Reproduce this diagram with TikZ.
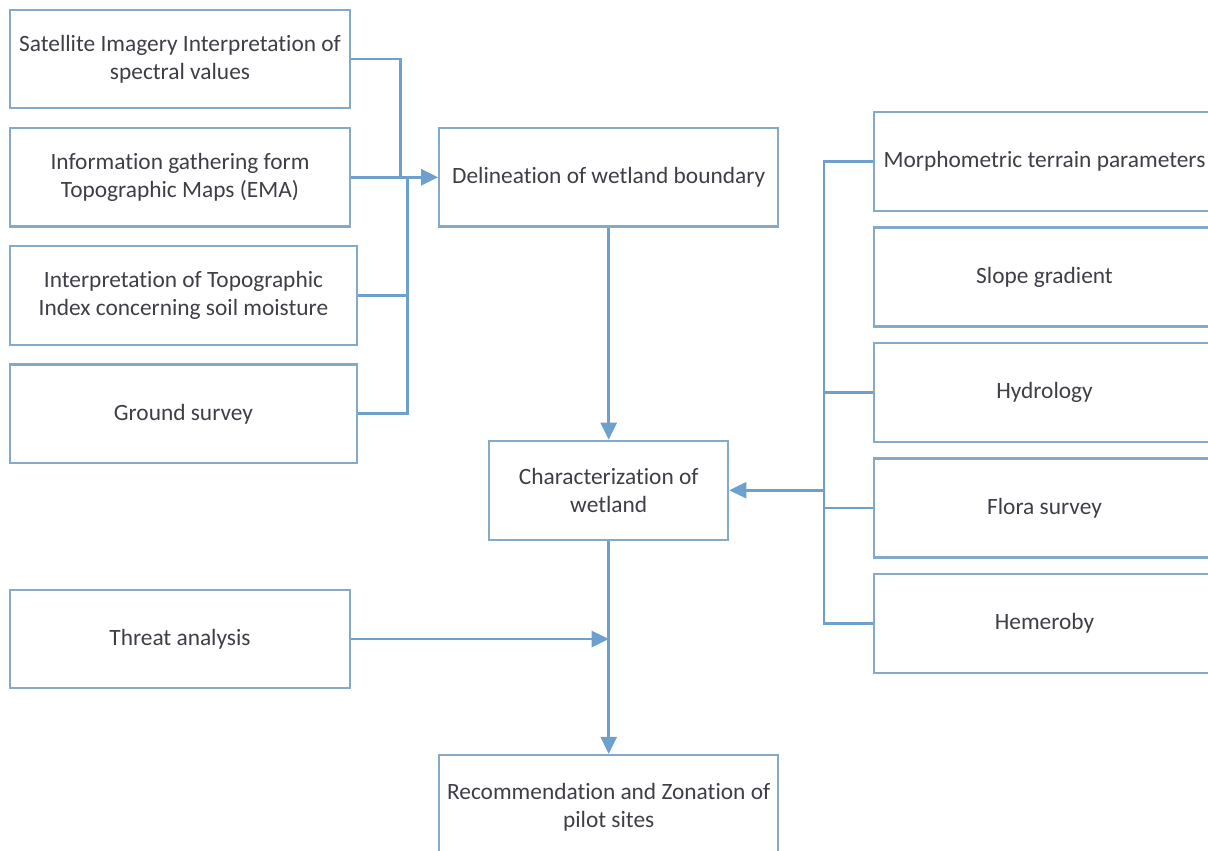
\documentclass[tikz,border=0pt]{standalone}
\usepackage{fontspec}
\setmainfont[Ligatures=NoCommon]{Carlito}
\usepackage{tikz}
\usetikzlibrary{arrows.meta, positioning}

\definecolor{boxline}{RGB}{132,170,200}
\definecolor{flowline}{RGB}{110,160,206}
\definecolor{boxtext}{RGB}{62,62,70}

\begin{document}
\begin{tikzpicture}[
            x = 0.02cm, y = -0.02cm, % one unit per pixel of the sketch
            > = {Triangle[length=3.4mm, width=3.2mm]}, % arrow head style
            node distance = 0.35cm, % gap between stacked boxes
            font = \fontsize{13.3}{16}\selectfont
        ]

        \tikzstyle{box}=[
            draw = boxline,
            line width = 1.3pt,
            text = boxtext,
            align = center,
            minimum width = 6.8cm,
            minimum height = 1.97cm
        ]
        \tikzstyle{flow}=[
            draw = flowline,
            line width = 1.6pt
        ]

        \useasboundingbox (0,0) rectangle (1208,850);
        \clip (0,0) rectangle (1208,850);

	% sources on the left
	\node[box] (sat) at (180,59) {Satellite Imagery Interpretation of\\spectral values};
	\node[box] (topo) [below=of sat] {Information gathering form\\Topographic Maps (EMA)};
	\node[box, minimum width=6.94cm] (index) [below=of topo.south west, anchor=north west] {Interpretation of Topographic\\Index concerning soil moisture};
	\node[box, minimum width=6.94cm] (ground) [below=of index.south west, anchor=north west] {Ground survey};
	\node[box] (threat) at (180,639) {Threat analysis};

	% main chain
	\node[box, minimum width=6.78cm] (delin) [right=1.74cm of topo] {Delineation of wetland boundary};
	\node[box, minimum width=4.78cm, minimum height=1.98cm] (charac) [below=4.24cm of delin] {Characterization of\\wetland};
	\node[box, minimum width=6.78cm, minimum height=2.1cm] (recom) [below=4.26cm of charac] {Recommendation and Zonation of\\pilot sites};

	% parameters on the right
	\node[box, minimum width=6.82cm, minimum height=1.98cm] (morph) at (1044.5,161.5) {Morphometric terrain parameters};
	\node[box, minimum width=6.82cm, minimum height=1.98cm] (slope) [below=0.285cm of morph] {Slope gradient};
	\node[box, minimum width=6.82cm, minimum height=1.98cm] (hydro) [below=0.285cm of slope] {Hydrology};
	\node[box, minimum width=6.82cm, minimum height=1.98cm] (flora) [below=0.285cm of hydro] {Flora survey};
	\node[box, minimum width=6.82cm, minimum height=1.98cm] (hemer) [below=0.285cm of flora] {Hemeroby};

	\coordinate (joinA) at ([xshift=-0.76cm]delin.west);
	\coordinate (joinB) at ([xshift=-0.62cm]delin.west);
	\coordinate (meet) at (charac.south |- threat.east);
	\coordinate (busTop) at ([xshift=-0.98cm]morph.west);
	\coordinate (busBot) at (busTop |- hemer.west);
	\coordinate (busOut) at (busTop |- charac.east);

	\path[flow] (sat.east) -| (joinA);
	\path[flow, ->] (topo.east) -- (delin.west);
	\path[flow] (index.east) -| (joinB);
	\path[flow] (ground.east) -| (joinB);
	\path[flow, ->] (delin) -- (charac);
	\path[flow, ->] (charac) -- (recom);
	\path[flow, ->] (threat.east) -- (meet);

	\path[flow] (morph.west) -- (busTop) -- (busBot) -- (hemer.west);
	\foreach \n in {hydro, flora}
	    \path[flow] (\n.west) -- (\n.west -| busTop);
	\path[flow, ->] (busOut) -- (charac.east);

    \end{tikzpicture}
\end{document}
